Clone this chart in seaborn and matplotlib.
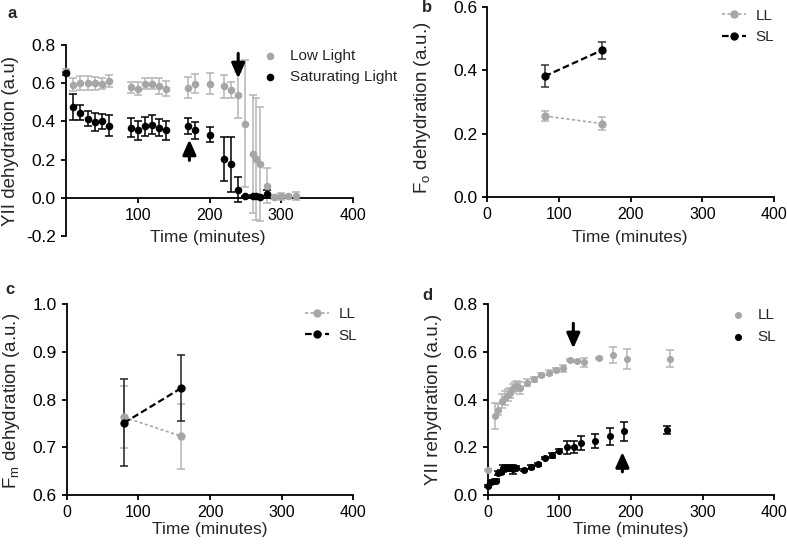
import matplotlib

matplotlib.use("Agg")
import matplotlib.pyplot as plt
import pandas as pd
import seaborn as sns

GRAY = "#a6a6a6"
ERR_GRAY = "#b5b5b5"
BLACK = "#000000"

# panel a: YII during dehydration
a_time_ll = [0, 10, 20, 30, 40, 50, 60, 90, 100, 110, 120, 130, 140, 170, 180, 200,
             220, 230, 240, 250, 260, 265, 270, 280, 290, 300, 310, 320]
a_ll = [0.665, 0.593, 0.602, 0.602, 0.600, 0.598, 0.611, 0.578, 0.571, 0.598, 0.598, 0.585,
        0.571, 0.576, 0.598, 0.598, 0.585, 0.564, 0.537, 0.389, 0.229, 0.203, 0.178, 0.064,
        0.004, 0.007, 0.007, 0.010]
a_ll_err = [0.01, 0.035, 0.035, 0.035, 0.035, 0.03, 0.03, 0.03, 0.035, 0.03, 0.03, 0.04,
            0.04, 0.055, 0.05, 0.055, 0.06, 0.04, 0.12, 0.33, 0.31, 0.32, 0.30, 0.093,
            0.01, 0.02, 0.01, 0.02]
a_time_sl = [0, 10, 20, 30, 40, 50, 60, 90, 100, 110, 120, 130, 140, 170, 180, 200,
             220, 230, 240, 250, 260, 265, 270, 280]
a_sl = [0.651, 0.476, 0.445, 0.415, 0.397, 0.400, 0.376, 0.368, 0.354, 0.375, 0.383, 0.368,
        0.354, 0.376, 0.354, 0.331, 0.205, 0.175, 0.043, 0.007, 0.010, 0.007, 0.004, 0.021]
a_sl_err = [0.01, 0.07, 0.04, 0.04, 0.045, 0.04, 0.055, 0.05, 0.05, 0.05, 0.05, 0.045,
            0.05, 0.04, 0.045, 0.04, 0.115, 0.145, 0.065, 0.005, 0.005, 0.005, 0.005, 0.02]
a_arrows = [(240, 0.756, 0.625), (172, 0.196, 0.305)]  # time, tail, tip

# panel b: Fo dehydration / panel c: Fm dehydration
bc_time = [80, 160]
b_ll = [0.256, 0.232]
b_ll_err = [0.015, 0.02]
b_sl = [0.381, 0.463]
b_sl_err = [0.035, 0.027]
c_ll = [0.763, 0.723]
c_ll_err = [0.065, 0.068]
c_sl = [0.751, 0.824]
c_sl_err = [0.091, 0.069]

# panel d: YII during rehydration
d_time_ll = [0, 10, 15, 20, 24, 28, 31, 35, 38, 41, 45, 55, 65, 75, 85, 95, 105, 115,
             125, 135, 155, 175, 195, 255]
d_ll = [0.105, 0.330, 0.358, 0.393, 0.406, 0.420, 0.428, 0.447, 0.454, 0.456, 0.449, 0.470,
        0.485, 0.503, 0.513, 0.525, 0.531, 0.565, 0.561, 0.555, 0.575, 0.587, 0.570, 0.571]
d_ll_err = [0.005, 0.055, 0.025, 0.03, 0.03, 0.025, 0.02, 0.02, 0.02, 0.02, 0.025, 0.015,
            0.01, 0.008, 0.01, 0.008, 0.015, 0.005, 0.005, 0.02, 0.005, 0.034, 0.043, 0.036]
d_time_sl = [0, 4, 7, 11, 15, 19, 22, 26, 30, 33, 36, 40, 50, 60, 70, 80, 90, 100, 110,
             120, 130, 150, 170, 190, 250]
d_sl = [0.037, 0.055, 0.058, 0.060, 0.092, 0.098, 0.111, 0.113, 0.111, 0.114, 0.108, 0.114,
        0.104, 0.116, 0.128, 0.156, 0.166, 0.186, 0.200, 0.200, 0.219, 0.227, 0.246, 0.267,
        0.271]
d_sl_err = [0.005, 0.005, 0.005, 0.005, 0.008, 0.008, 0.015, 0.012, 0.01, 0.01, 0.018, 0.008,
            0.005, 0.008, 0.008, 0.005, 0.012, 0.005, 0.028, 0.025, 0.03, 0.03, 0.036, 0.04,
            0.016]
d_arrows = [(119.5, 0.719, 0.614), (188, 0.097, 0.18)]

sns.set_theme(style="ticks")
plt.rcParams["font.family"] = ["Liberation Sans", "DejaVu Sans"]
plt.rcParams["axes.unicode_minus"] = False


def style_axes(ax):
    sns.despine(ax=ax)
    for side in ("left", "bottom"):
        ax.spines[side].set_linewidth(1.3)
        ax.spines[side].set_color("black")
    ax.tick_params(width=1.3, length=3.8, pad=3.5, color="black", labelcolor="black")
    ax.tick_params(axis="x", labelsize=11.5)
    ax.tick_params(axis="y", labelsize=12.5)


def draw_errors(ax, df, ecolor):
    container = ax.errorbar(df["time"], df["value"], yerr=df["err"], fmt="none", ecolor=ecolor,
                            elinewidth=1.1, capsize=3, capthick=1.1, zorder=2)
    for artist in container.get_children():
        artist.set_clip_on(False)


def draw_points(ax, time, vals, errs, color, ecolor, label, size):
    df = pd.DataFrame({"time": time, "value": vals, "err": errs})
    draw_errors(ax, df, ecolor)
    sns.scatterplot(data=df, x="time", y="value", color=color, s=size, linewidth=0,
                    label=label, ax=ax, zorder=3, clip_on=False)


def draw_lines(ax, time, vals, errs, color, ecolor, label, dashes, lw):
    df = pd.DataFrame({"time": time, "value": vals, "err": errs})
    draw_errors(ax, df, ecolor)
    sns.lineplot(data=df, x="time", y="value", color=color, lw=lw, dashes=False,
                 marker="o", markersize=6, markeredgewidth=0, label=label, ax=ax, zorder=3)
    ax.lines[-1].set_dashes(dashes)


def draw_arrows(ax, arrows):
    for t, tail, tip in arrows:
        ax.annotate("", xy=(t, tip), xytext=(t, tail),
                    arrowprops=dict(arrowstyle="-|>,head_length=0.45,head_width=0.2",
                                    mutation_scale=20, lw=2.2, color="black",
                                    shrinkA=0, shrinkB=0), zorder=4)


def legend(ax, x, y, handlelength, textpad):
    ax.legend(loc="upper left", bbox_to_anchor=(x, y), frameon=False, fontsize=11,
              borderaxespad=0, borderpad=0, handlelength=handlelength,
              handletextpad=textpad, labelspacing=0.5)


W, H = 787, 551
fig = plt.figure(figsize=(W / 100, H / 100), dpi=100)


def axes_px(x0, x1, y_top, y_bottom):
    return fig.add_axes([x0 / W, 1 - y_bottom / H, (x1 - x0) / W, (y_bottom - y_top) / H])


ax_a = axes_px(66, 353, 45, 236)
ax_b = axes_px(487.3, 774, 6.7, 197.3)
ax_c = axes_px(66.7, 353.3, 304, 495)
ax_d = axes_px(487.7, 774.3, 304, 495)

# a
draw_points(ax_a, a_time_ll, a_ll, a_ll_err, GRAY, ERR_GRAY, "Low Light", 30)
draw_points(ax_a, a_time_sl, a_sl, a_sl_err, BLACK, BLACK, "Saturating Light", 30)
draw_arrows(ax_a, a_arrows)
style_axes(ax_a)
ax_a.spines["bottom"].set_position(("data", 0))
ax_a.set_xlim(0, 400)
ax_a.set_ylim(-0.2, 0.8)
ax_a.set_xticks([100, 200, 300, 400])
ax_a.set_yticks([-0.2, 0.0, 0.2, 0.4, 0.6, 0.8])
ax_a.set_yticklabels(["-0.2", "0.0", "0.2", "0.4", "0.6", "0.8"])
ax_a.set_xlabel("Time (minutes)", fontsize=12.5)
ax_a.set_ylabel("YII dehydration (a.u)", fontsize=13.5)
ax_a.xaxis.set_label_coords(0.495, 0.03)
ax_a.yaxis.set_label_coords(-0.165, 0.5)
legend(ax_a, 0.685, 0.98, 1.0, 0.8)

# b
draw_lines(ax_b, bc_time, b_ll, b_ll_err, GRAY, ERR_GRAY, "LL", (1.8, 1.5), 1.2)
draw_lines(ax_b, bc_time, b_sl, b_sl_err, BLACK, "#333333", "SL", (3.0, 1.5), 1.6)
style_axes(ax_b)
ax_b.set_xlim(0, 400)
ax_b.set_ylim(0, 0.6)
ax_b.set_xticks([0, 100, 200, 300, 400])
ax_b.set_yticks([0.0, 0.2, 0.4, 0.6])
ax_b.set_yticklabels(["0.0", "0.2", "0.4", "0.6"])
ax_b.set_xlabel("Time (minutes)", fontsize=12.5)
ax_b.set_ylabel(r"F$_\mathregular{o}$ dehydration (a.u.)", fontsize=13.5)
ax_b.xaxis.set_label_coords(0.498, -0.17)
ax_b.yaxis.set_label_coords(-0.19, 0.47)
legend(ax_b, 0.818, 0.99, 1.55, 0.65)

# c
draw_lines(ax_c, bc_time, c_ll, c_ll_err, GRAY, ERR_GRAY, "LL", (1.8, 1.5), 1.2)
draw_lines(ax_c, bc_time, c_sl, c_sl_err, BLACK, "#222222", "SL", (3.0, 1.5), 1.6)
style_axes(ax_c)
ax_c.set_xlim(0, 400)
ax_c.set_ylim(0.6, 1.0)
ax_c.set_xticks([0, 100, 200, 300, 400])
ax_c.set_yticks([0.6, 0.7, 0.8, 0.9, 1.0])
ax_c.set_yticklabels(["0.6", "0.7", "0.8", "0.9", "1.0"])
ax_c.set_xlabel("Time (minutes)", fontsize=12.5)
ax_c.set_ylabel(r"F$_\mathregular{m}$ dehydration (a.u.)", fontsize=13.5)
ax_c.xaxis.set_label_coords(0.5, -0.14)
ax_c.yaxis.set_label_coords(-0.156, 0.49)
legend(ax_c, 0.831, 0.984, 1.55, 0.65)

# d
draw_points(ax_d, d_time_ll, d_ll, d_ll_err, GRAY, ERR_GRAY, "LL", 26)
draw_points(ax_d, d_time_sl, d_sl, d_sl_err, BLACK, BLACK, "SL", 26)
draw_arrows(ax_d, d_arrows)
style_axes(ax_d)
ax_d.set_xlim(0, 400)
ax_d.set_ylim(0, 0.8)
ax_d.set_xticks([0, 100, 200, 300, 400])
ax_d.set_yticks([0.0, 0.2, 0.4, 0.6, 0.8])
ax_d.set_yticklabels(["0.0", "0.2", "0.4", "0.6", "0.8"])
ax_d.set_xlabel("Time (minutes)", fontsize=12.5)
ax_d.set_ylabel("YII rehydration (a.u.)", fontsize=13.5)
ax_d.xaxis.set_label_coords(0.5, -0.14)
ax_d.yaxis.set_label_coords(-0.16, 0.5)
legend(ax_d, 0.847, 0.979, 1.0, 0.77)

for letter, (px, py) in zip("abcd", [(12.5, 14), (427, 8), (10, 290), (427, 295)]):
    fig.text(px / W, 1 - py / H, letter, fontsize=12, fontweight="bold",
             ha="center", va="center")

fig.savefig("out.png", dpi=100)
